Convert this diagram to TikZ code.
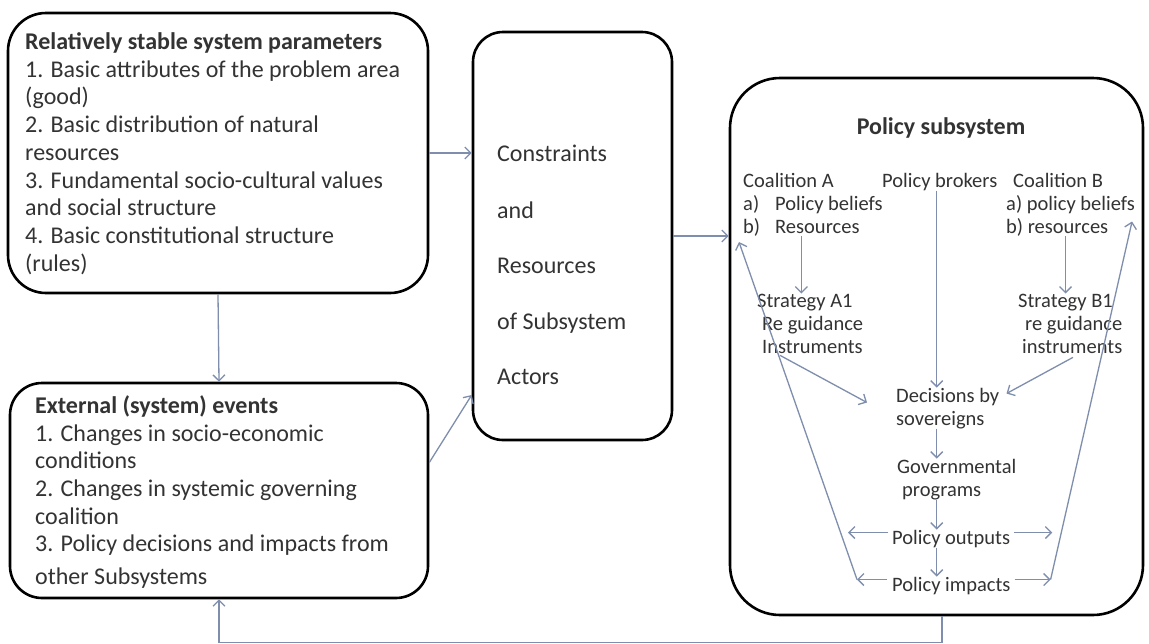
\documentclass[tikz,border=0pt]{standalone}
\usepackage{fontspec}
\setmainfont{Carlito}
\usetikzlibrary{arrows.meta}
\definecolor{arr}{HTML}{7F8EAD}
\definecolor{txt}{HTML}{333333}
\begin{document}
\begin{tikzpicture}[x=1pt,y=-1pt,
  box/.style={draw=black, line width=2.6pt, rounded corners=#1, inner sep=0pt, fill=white},
  arrow/.style={draw=arr, line width=1.3pt, -{Straight Barb[length=6pt,width=12pt]}},
  plain/.style={draw=arr, line width=1.3pt},
  big/.style={anchor=base west, inner sep=0pt, text=txt, font=\fontsize{24}{28}\selectfont},
  small/.style={anchor=base west, inner sep=0pt, text=txt, font=\fontsize{20.5}{23}\selectfont}]
\useasboundingbox[fill=white] (0,0) rectangle (1149,643);

% boxes
\node[box=38, minimum width=420pt, minimum height=280pt] (sp) at (218,153) {};
\node[box=32, minimum width=418pt, minimum height=215pt] (ev) at (219,490.5) {};
\node[box=30, minimum width=199pt, minimum height=408pt] (cr) at (572.5,236) {};
\node[box=50, minimum width=413pt, minimum height=537pt] (ps) at (936.5,346.5) {};

% box 1 text
\node[big] (sp0) at (25,49) {\textbf{Relatively stable system parameters}};
\node[big] (sp1) at (25,77) {1. Basic attributes of the problem area};
\node[big] (sp2) at (25,104.5) {(good)};
\node[big] (sp3) at (25,132) {2. Basic distribution of natural};
\node[big] (sp4) at (25,160) {resources};
\node[big] (sp5) at (25,188) {3. Fundamental socio-cultural values};
\node[big] (sp6) at (25,215) {and social structure};
\node[big] (sp7) at (25,243) {4. Basic constitutional structure};
\node[big] (sp8) at (25,271) {(rules)};

% box 2 text
\node[big] (ev0) at (35,413) {\textbf{External (system) events}};
\node[big] (ev1) at (35,441) {1. Changes in socio-economic};
\node[big] (ev2) at (35,468) {conditions};
\node[big] (ev3) at (35,496) {2. Changes in systemic governing};
\node[big] (ev4) at (35,524) {coalition};
\node[big] (ev5) at (35,551) {3. Policy decisions and impacts from};
\node[big] (ev6) at (35,584) {other Subsystems};

% box 3 text
\node[big] (cr0) at (497,161) {Constraints};
\node[big] (cr1) at (497,218) {and};
\node[big] (cr2) at (497,273) {Resources};
\node[big] (cr3) at (497,329) {of Subsystem};
\node[big] (cr4) at (497,384) {Actors};

% box 4 text
\node[anchor=base, inner sep=0pt, text=txt, font=\fontsize{24}{28}\selectfont\bfseries] (pst) at (941,134) {Policy subsystem};
\node[small] (ca) at (743,187) {Coalition A};
\node[small] (pa) at (743,210) {\makebox[32pt][l]{a)}Policy beliefs};
\node[small] (ra) at (743,233) {\makebox[32pt][l]{b)}Resources};
\node[small] (pb) at (882,187) {Policy brokers};
\node[small] (cb) at (1013,187) {Coalition B};
\node[small] (pbB) at (1006,210) {a) policy beliefs};
\node[small] (rb) at (1006,233) {b) resources};
\node[small] (sa) at (757,307) {Strategy A1};
\node[small] (ga) at (762,330) {Re guidance};
\node[small] (ia) at (762,353) {Instruments};
\node[small] (sb) at (1018,307) {Strategy B1};
\node[small] (gb) at (1025,330) {re guidance};
\node[small] (ib) at (1022,353) {instruments};
\node[small] (ds) at (896,402) {Decisions by};
\node[small] (sv) at (896,425) {sovereigns};
\node[small] (gv) at (897,473) {Governmental};
\node[small] (pg) at (902,496) {programs};
\node[small] (po) at (892,544) {Policy outputs};
\node[small] (pi) at (892,591) {Policy impacts};

% main connectors
\draw[arrow] (sp.east) -- (sp.east -| cr.west);
\draw[arrow] (cr.east) -- (cr.east -| ps.west);
\draw[arrow] (sp.south) -- (ev.north);
\draw[arrow] ([yshift=28pt]ev.east) -- ([yshift=-159pt]cr.west);
\draw[arrow] ([xshift=5.5pt]ps.south) |- ([yshift=-43pt]ev.south) -- (ev.south);

% inside policy subsystem
\draw[arrow] (ra.south) -- (ra.south |- sa.north);
\draw[arrow] (rb.south -| sb.north) -- (sb.north);
\draw[arrow] ([xshift=-3pt]pb.south) -- ([xshift=-3pt]pb.south |- ds.north);
\draw[arrow] ([xshift=-3pt]pb.south |- sv.south) -- ([xshift=-3pt]pb.south |- gv.north);
\draw[arrow] ([xshift=-3pt]pb.south |- pg.south) -- ([xshift=-3pt]pb.south |- po.north);
\draw[arrow] ([xshift=-3pt]pb.south |- po.south) -- ([xshift=-3pt]pb.south |- pi.north);

\draw[arrow] ([xshift=-4pt,yshift=6pt]po.west) -- ([xshift=-44pt,yshift=6pt]po.west);
\draw[arrow] ([xshift=4pt,yshift=6pt]po.east) -- ([xshift=42pt,yshift=6pt]po.east);
\coordinate (impL) at ([xshift=-35pt,yshift=6pt]pi.west);
\coordinate (impR) at ([xshift=40pt,yshift=6pt]pi.east);
\draw[arrow] ([xshift=-5pt,yshift=6pt]pi.west) -- (impL);
\draw[arrow] ([xshift=4pt,yshift=6pt]pi.east) -- (impR);
\draw[arrow] (impL) -- ([xshift=-4pt,yshift=-6pt]ra.south west);
\draw[arrow] (impR) -- ([xshift=-3pt,yshift=-8pt]pbB.south east);

\draw[arrow] ([xshift=18pt,yshift=-2pt]ia.south west) -- ([xshift=-29pt,yshift=-6pt]ds.west);
\draw[arrow] ([xshift=51pt,yshift=-4pt]ib.south west) -- ([xshift=7pt,yshift=3pt]ds.east);
\end{tikzpicture}
\end{document}
